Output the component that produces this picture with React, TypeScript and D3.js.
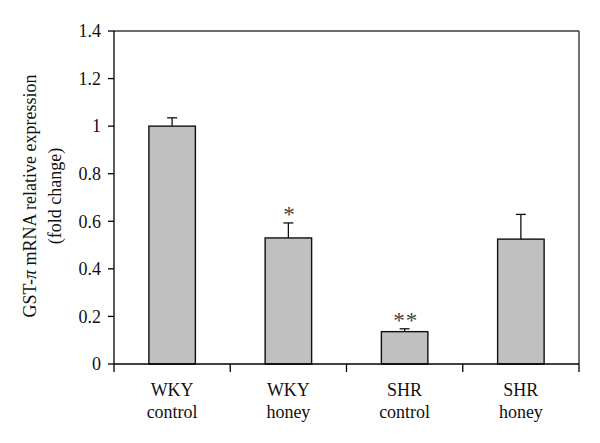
import React from "react";
import * as d3 from "d3";

const categories = ["WKY control", "WKY honey", "SHR control", "SHR honey"];
const means = [1.0, 0.53, 0.136, 0.525];
const errors = [0.035, 0.063, 0.012, 0.104];
const marks = ["", "*", "**", ""];
const yTicks = [0, 0.2, 0.4, 0.6, 0.8, 1, 1.2, 1.4];

const W = 600, H = 443;
const m = { left: 114, right: 21, top: 31, bottom: 79 };
const FONT = "'Liberation Serif', 'Times New Roman', serif";

export default function App() {
  const x = d3.scaleBand<string>().domain(categories).range([m.left, W - m.right]).paddingInner(0).paddingOuter(0);
  const y = d3.scaleLinear().domain([0, 1.4]).range([H - m.bottom, m.top]);
  const bw = x.bandwidth() * 0.4;
  const y0 = y(0);
  const x1 = W - m.right;
  return (
    <svg width={W} height={H} style={{ position: "absolute", left: 0, top: 0, background: "#fff" }} fontFamily={FONT}>
      <rect x={0} y={0} width={W} height={H} fill="#fff" />
      {/* frame top/right */}
      <line x1={m.left} x2={x1} y1={m.top} y2={m.top} stroke="#3a3a3a" strokeWidth={1.3} />
      <line x1={x1} x2={x1} y1={m.top} y2={y0} stroke="#222" strokeWidth={1.3} />
      {/* bars */}
      {categories.map((c, i) => {
        const cx = (x(c) as number) + x.bandwidth() / 2;
        const top = y(means[i]);
        const et = y(means[i] + errors[i]);
        return (
          <g key={c}>
            <rect x={cx - bw / 2} y={top} width={bw} height={y0 - top} fill="#c0c0c0" stroke="#111" strokeWidth={1.4} />
            <line x1={cx} x2={cx} y1={top} y2={et} stroke="#111" strokeWidth={1.3} />
            <line x1={cx - 5} x2={cx + 5} y1={et} y2={et} stroke="#111" strokeWidth={1.3} />
            {marks[i] && (
              <text x={cx + 1} y={et - 1} textAnchor="middle" fontSize={23} fill="#444" letterSpacing={1}>{marks[i]}</text>
            )}
          </g>
        );
      })}
      {/* y axis */}
      <line x1={m.left} x2={m.left} y1={m.top} y2={y0} stroke="#000" strokeWidth={1.3} />
      {yTicks.map((t) => (
        <g key={t}>
          <line x1={m.left - 6} x2={m.left} y1={y(t)} y2={y(t)} stroke="#000" strokeWidth={1.3} />
          <text x={m.left - 13} y={y(t)} dy="0.35em" textAnchor="end" fontSize={18} fill="#111">{d3.format("~g")(t)}</text>
        </g>
      ))}
      {/* x axis */}
      <line x1={m.left} x2={x1} y1={y0} y2={y0} stroke="#000" strokeWidth={1.3} />
      {[...categories.map((c) => x(c) as number), x1].map((px, i) => (
        <line key={i} x1={px} x2={px} y1={y0} y2={y0 + 8} stroke="#000" strokeWidth={1.3} />
      ))}
      {categories.map((c) => {
        const cx = (x(c) as number) + x.bandwidth() / 2;
        const [a, b] = c.split(" ");
        return (
          <text key={c} x={cx} textAnchor="middle" fontSize={18} fill="#111">
            <tspan x={cx} y={396}>{a}</tspan>
            <tspan x={cx} y={418}>{b}</tspan>
          </text>
        );
      })}
      {/* y label */}
      <g transform="translate(36,196) rotate(-90)">
        <text textAnchor="middle" fontSize={18} fill="#111">
          GST-<tspan fontStyle="italic">π</tspan> mRNA relative expression
        </text>
      </g>
      <g transform="translate(61,196) rotate(-90)">
        <text textAnchor="middle" fontSize={18} fill="#111">(fold change)</text>
      </g>
    </svg>
  );
}
